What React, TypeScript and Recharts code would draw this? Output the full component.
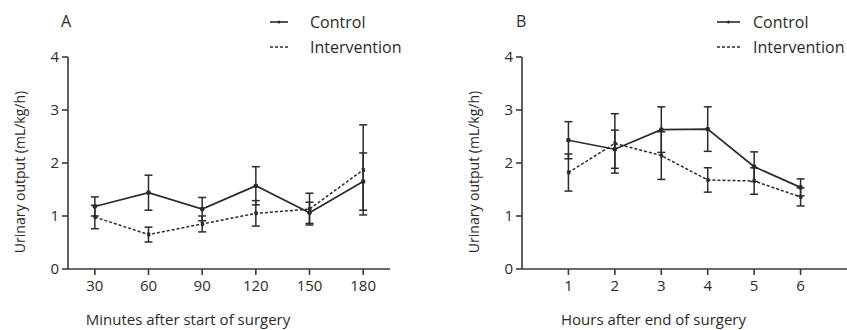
import React from "react";
import { LineChart, Line, XAxis, YAxis, ErrorBar, Legend, Label } from "recharts";

// Urinary output, minutes after start of surgery
const minutes = [30, 60, 90, 120, 150, 180];
const controlA = [1.18, 1.44, 1.13, 1.57, 1.06, 1.65];
const controlAErr = [0.18, 0.33, 0.22, 0.36, 0.2, 0.54];
const interventionA = [0.98, 0.65, 0.85, 1.05, 1.13, 1.87];
const interventionAErr = [0.22, 0.14, 0.15, 0.24, 0.3, 0.85];

// Urinary output, hours after end of surgery
const hours = [1, 2, 3, 4, 5, 6];
const controlB = [2.43, 2.26, 2.63, 2.64, 1.93, 1.54];
const controlBErr = [0.35, 0.36, 0.43, 0.42, 0.28, 0.16];
const interventionB = [1.82, 2.37, 2.14, 1.68, 1.66, 1.36];
const interventionBErr = [0.35, 0.56, 0.45, 0.23, 0.25, 0.17];

const yTicks = [0, 1, 2, 3, 4];

const FONT = "'Open Sans', 'Liberation Sans', sans-serif";
const INK = "#2b2b2b";
const AXIS = "#3a3a3a";

const buildRows = (xs: number[], c: number[], cErr: number[], v: number[], vErr: number[]) =>
    xs.map((x, i) => ({ x, control: c[i], controlErr: cErr[i], intervention: v[i], interventionErr: vErr[i] }));

const dataA = buildRows(minutes, controlA, controlAErr, interventionA, interventionAErr);
const dataB = buildRows(hours, controlB, controlBErr, interventionB, interventionBErr);

const LegendBox = ({ lineW, gap }: { lineW: number; gap: number }) => (
    <svg width={160} height={50} style={{ display: "block" }}>
        <line x1={0} x2={lineW} y1={10} y2={10} stroke={INK} strokeWidth={1.6} />
        <circle cx={lineW / 2} cy={10} r={1.5} fill={INK} />
        <text x={lineW + gap} y={10} dominantBaseline="central" fontSize={16} fill={INK} fontFamily={FONT}>
            Control
        </text>
        <line x1={0} x2={lineW} y1={35} y2={35} stroke={INK} strokeWidth={1.4} strokeDasharray="3 2" />
        <text x={lineW + gap} y={35} dominantBaseline="central" fontSize={16} fill={INK} fontFamily={FONT}>
            Intervention
        </text>
    </svg>
);

interface PanelProps {
    data: any[];
    width: number;
    yAxisWidth: number;
    domain: [number, number];
    ticks: number[];
    xTitle: string;
    xTitleShift: number;
    yTitleShift: number;
    legendLeft: number;
    legendLine: number;
    legendGap: number;
}

const Panel: React.FC<PanelProps> = ({
    data,
    width,
    yAxisWidth,
    domain,
    ticks,
    xTitle,
    xTitleShift,
    yTitleShift,
    legendLeft,
    legendLine,
    legendGap,
}) => (
    <LineChart
        width={width}
        height={330}
        data={data}
        margin={{ top: 57, right: width === 420 ? 30 : 0, bottom: 21, left: 0 }}
        style={{ fontFamily: FONT }}
    >
        <XAxis
            dataKey="x"
            type="number"
            domain={domain}
            ticks={ticks}
            height={40}
            tickSize={6}
            tickMargin={5}
            stroke={AXIS}
            strokeWidth={1.6}
            tick={{ fontSize: 15, fill: INK }}
        >
            <Label value={xTitle} position="bottom" offset={5} dx={xTitleShift} fontSize={15} fill={INK} />
        </XAxis>
        <YAxis
            domain={[0, 4]}
            ticks={yTicks}
            width={yAxisWidth}
            tickSize={6}
            tickMargin={3}
            stroke={AXIS}
            strokeWidth={1.6}
            tick={{ fontSize: 15, fill: INK }}
        >
            <Label
                value="Urinary output (mL/kg/h)"
                position="center"
                angle={-90}
                dx={yTitleShift}
                dy={9}
                fontSize={14}
                fill={INK}
            />
        </YAxis>
        <Legend
            layout="vertical"
            align="center"
            verticalAlign="middle"
            wrapperStyle={{ left: legendLeft, top: 12, width: 160, height: 50 }}
            content={() => <LegendBox lineW={legendLine} gap={legendGap} />}
        />
        <Line
            dataKey="control"
            stroke={INK}
            strokeWidth={1.7}
            dot={{ r: 1.5, fill: INK, stroke: INK }}
            isAnimationActive={false}
        >
            <ErrorBar dataKey="controlErr" width={4} stroke={INK} strokeWidth={1.5} />
        </Line>
        <Line
            dataKey="intervention"
            stroke={INK}
            strokeWidth={1.5}
            strokeDasharray="3 2"
            dot={{ r: 1.5, fill: INK, stroke: INK }}
            isAnimationActive={false}
        >
            <ErrorBar dataKey="interventionErr" width={4} stroke={INK} strokeWidth={1.5} />
        </Line>
    </LineChart>
);

const panelLetter = (left: number, letter: string) => (
    <div
        style={{
            position: "absolute",
            left,
            top: 11,
            fontFamily: FONT,
            fontSize: 16,
            color: INK,
            lineHeight: "20px",
        }}
    >
        {letter}
    </div>
);

export default function App() {
    return (
        <div style={{ position: "absolute", left: 0, top: 0, width: 847, height: 330, background: "#fff" }}>
            <div style={{ position: "absolute", left: 0, top: 0 }}>
                <Panel
                    data={dataA}
                    width={420}
                    yAxisWidth={68}
                    domain={[15, 195]}
                    ticks={minutes}
                    xTitle="Minutes after start of surgery"
                    xTitleShift={-41}
                    yTitleShift={-14}
                    legendLeft={270}
                    legendLine={18}
                    legendGap={22}
                />
            </div>
            <div style={{ position: "absolute", left: 420, top: 0 }}>
                <Panel
                    data={dataB}
                    width={427}
                    yAxisWidth={102}
                    domain={[0, 7]}
                    ticks={hours}
                    xTitle="Hours after end of surgery"
                    xTitleShift={-31}
                    yTitleShift={3}
                    legendLeft={297}
                    legendLine={23}
                    legendGap={13}
                />
            </div>
            {panelLetter(61, "A")}
            {panelLetter(516, "B")}
        </div>
    );
}
